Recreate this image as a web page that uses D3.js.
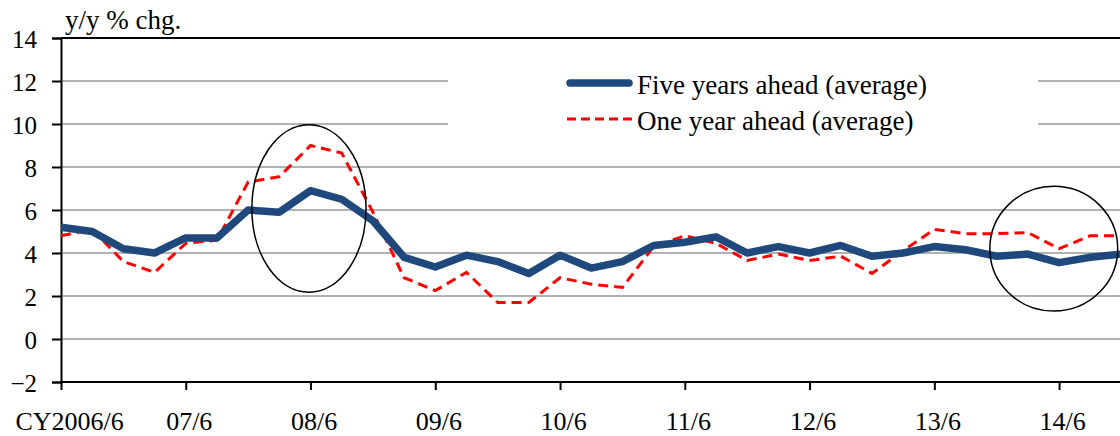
<!DOCTYPE html>
<html>
<head>
<meta charset="utf-8">
<script src="https://cdn.jsdelivr.net/npm/d3@7"></script>
<style>
    body { margin: 0; background: #fff; }
</style>
</head>
<body>
<div id="chart"></div>
<script>
// quarterly observations, CY2006/6 .. 14/12
const quarters = [
    "06/6", "06/9", "06/12", "07/3", "07/6", "07/9", "07/12", "08/3", "08/6", "08/9", "08/12", "09/3",
    "09/6", "09/9", "09/12", "10/3", "10/6", "10/9", "10/12", "11/3", "11/6", "11/9", "11/12", "12/3",
    "12/6", "12/9", "12/12", "13/3", "13/6", "13/9", "13/12", "14/3", "14/6", "14/9", "14/12"
]
const fiveYears = [
    5.2, 5.0, 4.2, 4.0, 4.7, 4.7, 6.0, 5.9, 6.9, 6.5, 5.5, 3.8,
    3.35, 3.9, 3.6, 3.05, 3.9, 3.3, 3.6, 4.35, 4.5, 4.75, 4.0, 4.3,
    4.0, 4.35, 3.85, 4.0, 4.3, 4.15, 3.85, 3.95, 3.55, 3.8, 3.95
]
const oneYear = [
    4.8, 5.1, 3.6, 3.1, 4.45, 4.6, 7.3, 7.55, 9.0, 8.65, 5.9, 2.85,
    2.25, 3.1, 1.7, 1.7, 2.85, 2.55, 2.4, 4.3, 4.8, 4.45, 3.65, 3.95,
    3.65, 3.85, 3.05, 4.1, 5.1, 4.9, 4.9, 4.95, 4.2, 4.8, 4.8
]
const xTickIndex = [0, 4, 8, 12, 16, 20, 24, 28, 32]
const xTickLabels = ["CY2006/6", "07/6", "08/6", "09/6", "10/6", "11/6", "12/6", "13/6", "14/6"]
const yTicks = [-2, 0, 2, 4, 6, 8, 10, 12, 14]
const seriesNames = ["Five years ahead (average)", "One year ahead (average)"]
// circled periods: centre (quarter index, value) and radii (quarters, value units)
const circles = [
    { cx: 7.95, cy: 6.07, rx: 1.83, ry: 3.9 },
    { cx: 31.83, cy: 4.2, rx: 2.05, ry: 2.9 }
]

const FONT = "'Liberation Serif', 'Times New Roman', Times, serif"
const W = 1120, H = 436
const margin = { top: 38, left: 61, bottom: 54 }
const step = 31.19

const svg = d3.select("#chart").append("svg")
    .attr("width", W)
    .attr("height", H)
    .style("font-family", FONT)

const x = d3.scaleLinear()
    .domain([0, 1])
    .range([margin.left, margin.left + step])

const y = d3.scaleLinear()
    .domain([-2, 14])
    .range([H - margin.bottom, margin.top])

// gridlines
svg.append("g")
    .selectAll("line")
    .data(yTicks.filter(d => d > -2 && d < 14))
    .enter()
    .append("line")
    .attr("x1", margin.left)
    .attr("x2", W)
    .attr("y1", d => y(d))
    .attr("y2", d => y(d))
    .attr("stroke", "#999")
    .attr("stroke-width", 1.6)

// top border
svg.append("line")
    .attr("x1", margin.left).attr("x2", W)
    .attr("y1", y(14)).attr("y2", y(14))
    .attr("stroke", "#000").attr("stroke-width", 2)

// legend background hides the gridlines
svg.append("rect")
    .attr("x", 448).attr("y", 58)
    .attr("width", 590).attr("height", 88)
    .attr("fill", "#fff")

// Y axis
const yAxis = d3.axisLeft(y)
    .tickValues(yTicks)
    .tickSize(9)
    .tickPadding(15)
    .tickFormat(d3.format("d"))

const gy = svg.append("g")
    .attr("transform", "translate(" + margin.left + ",0)")
    .call(yAxis)
    .attr("font-family", null)
    .attr("font-size", null)

gy.selectAll(".tick text")
    .style("font-family", FONT)
    .style("font-size", "25px")
    .attr("fill", "#000")
    .attr("dy", "0.36em")

// X axis
const xAxis = d3.axisBottom(x)
    .tickValues(xTickIndex)
    .tickSize(8)
    .tickFormat((d, i) => xTickLabels[i])

const gx = svg.append("g")
    .attr("transform", "translate(0," + y(-2) + ")")
    .call(xAxis)
    .attr("font-family", null)
    .attr("font-size", null)

gx.select(".domain").attr("d", "M" + margin.left + ",0H" + W)

gx.selectAll(".tick text")
    .style("font-family", FONT)
    .style("font-size", "26px")
    .attr("fill", "#000")
    .attr("y", 48)
    .attr("dy", 0)
    .attr("dx", 3)

gx.selectAll(".tick text")
    .filter((d, i) => i === 0)
    .attr("text-anchor", "start")
    .attr("x", 15 - margin.left)
    .attr("dx", 0)

svg.selectAll(".domain, .tick line")
    .attr("stroke", "#000")
    .attr("stroke-width", 2)

// title
svg.append("text")
    .attr("x", 65)
    .attr("y", 29)
    .style("font-family", FONT)
    .style("font-size", "27px")
    .text("y/y % chg.")

// lines
const line = d3.line()
    .x((d, i) => x(i))
    .y(d => y(d))

svg.append("path")
    .datum(oneYear)
    .attr("d", line)
    .attr("fill", "none")
    .attr("stroke", "#FF0000")
    .attr("stroke-width", 3)
    .attr("stroke-dasharray", "10,6")

svg.append("path")
    .datum(fiveYears)
    .attr("d", line)
    .attr("fill", "none")
    .attr("stroke", "#1F497D")
    .attr("stroke-width", 7.5)
    .attr("stroke-linejoin", "round")

// circles
svg.append("g")
    .selectAll("ellipse")
    .data(circles)
    .enter()
    .append("ellipse")
    .attr("cx", d => x(d.cx))
    .attr("cy", d => y(d.cy))
    .attr("rx", d => x(d.rx) - x(0))
    .attr("ry", d => y(0) - y(d.ry))
    .attr("fill", "none")
    .attr("stroke", "#000")
    .attr("stroke-width", 1.5)

// legend
const legend = svg.append("g")
const legendY = [83, 119]

legend.append("line")
    .attr("x1", 570).attr("x2", 629)
    .attr("y1", legendY[0]).attr("y2", legendY[0])
    .attr("stroke", "#1F497D")
    .attr("stroke-width", 7.5)
    .attr("stroke-linecap", "round")

legend.append("line")
    .attr("x1", 567).attr("x2", 632)
    .attr("y1", legendY[1]).attr("y2", legendY[1])
    .attr("stroke", "#FF0000")
    .attr("stroke-width", 3)
    .attr("stroke-dasharray", "9,5")

legend.selectAll("text")
    .data(seriesNames)
    .enter()
    .append("text")
    .attr("x", 637)
    .attr("y", (d, i) => legendY[i] + 11)
    .style("font-family", FONT)
    .style("font-size", "27px")
    .text(d => d)
</script>
</body>
</html>
